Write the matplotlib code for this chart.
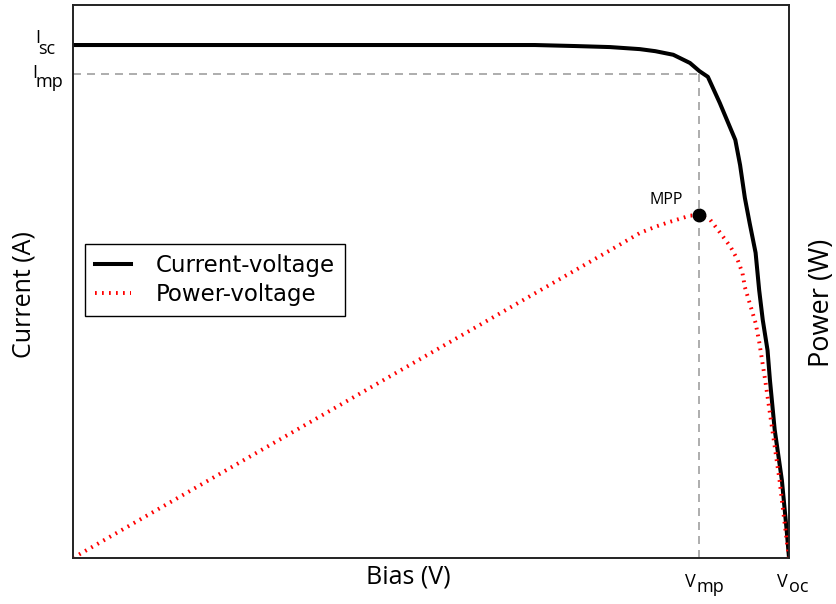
import matplotlib
matplotlib.use('Agg')
import matplotlib.pyplot as plt

plt.rcParams['font.family'] = ['Open Sans', 'DejaVu Sans']

# I-V sweep of the cell (V in volts, I normalised to Isc)
volt = [0.0, 0.387, 0.421, 0.450, 0.475, 0.488, 0.503, 0.517, 0.525, 0.532,
        0.542, 0.555, 0.559, 0.563, 0.567, 0.572, 0.575, 0.578, 0.582,
        0.584, 0.588, 0.594, 0.598, 0.600]
curr = [1.000, 1.000, 0.998, 0.996, 0.992, 0.988, 0.981, 0.965, 0.949, 0.938,
        0.887, 0.815, 0.766, 0.702, 0.653, 0.595, 0.522, 0.464, 0.405,
        0.347, 0.250, 0.152, 0.055, 0.0]

# P-V curve
pv_volt = [0.0, 0.450, 0.475, 0.488, 0.500, 0.517, 0.5245, 0.534, 0.542, 0.551,
           0.557, 0.561, 0.563, 0.567, 0.572, 0.575, 0.580, 0.586, 0.592, 0.598,
           0.600]
pv_power = [0.0, 0.444, 0.469, 0.478, 0.485, 0.494, 0.495, 0.488, 0.470, 0.449,
            0.430, 0.411, 0.391, 0.368, 0.339, 0.312, 0.257, 0.185, 0.113, 0.026,
            0.0]

Isc, Imp = 1.0, 0.9435
Voc, Vmp = 0.600, 0.5245
Pmp = 0.495

# tick labels: main letter + subscript
xtick_pos = [Vmp, Voc]
xtick_main = ['V', 'V']
xtick_sub = ['mp', 'oc']
ytick_pos = [Isc, Imp]
ytick_main = ['I', 'I']
ytick_sub = ['sc', 'mp']

fig = plt.figure(figsize=(8.36, 6.04), dpi=100)
ax1 = fig.add_axes([0.0873, 0.0762, 0.8565, 0.9155])
ax2 = ax1.twinx()

ln1, = ax1.plot(volt, curr, color='black', lw=2.9, label='Current-voltage')
dash = (0, (4.8, 3.6))
ax1.plot([0, Vmp], [Imp, Imp], color='#a0a0a0', lw=1.2, ls=dash)
ax1.plot([Vmp, Vmp], [0, Imp], color='#a0a0a0', lw=1.2, ls=dash)

ln2, = ax2.plot(pv_volt, pv_power, color='red', lw=2.8, ls=(0, (0.45, 1.35)),
                label='Power-voltage')
ax2.plot([Vmp], [Pmp], 'o', color='black', ms=9)
ax2.annotate('MPP', xy=(Vmp, Pmp), xytext=(-33, 11), textcoords='offset pixels',
             fontsize=11.5, ha='center', va='baseline')

ax1.set_xlim(0, Voc)
ax1.set_ylim(0, 1.078)
ax2.set_ylim(0, 0.798)

for ax in (ax1, ax2):
    ax.set_xticks([])
    ax.set_yticks([])
    for s in ax.spines.values():
        s.set_linewidth(1.2)
        s.set_color('#222222')

# subscripted tick labels, drawn by hand so the subscript stays full size
xoffs = [(-14, -2), (-12, 0)]
for x, m, s, (dm, ds) in zip(xtick_pos, xtick_main, xtick_sub, xoffs):
    ax1.annotate(m, xy=(x, 0), xycoords=('data', 'axes fraction'), xytext=(dm, -29),
                 textcoords='offset pixels', fontsize=13, ha='left', va='baseline',
                 annotation_clip=False)
    ax1.annotate(s, xy=(x, 0), xycoords=('data', 'axes fraction'), xytext=(ds, -34),
                 textcoords='offset pixels', fontsize=13, ha='left', va='baseline',
                 annotation_clip=False)

yoffs = [(-38, -35, 2, -9), (-41, -37, -4, -13)]
for y, m, s, (xm, xs, ym, ys) in zip(ytick_pos, ytick_main, ytick_sub, yoffs):
    ax1.annotate(m, xy=(0, y), xycoords=('axes fraction', 'data'), xytext=(xm, ym),
                 textcoords='offset pixels', fontsize=13, ha='left', va='baseline',
                 annotation_clip=False)
    ax1.annotate(s, xy=(0, y), xycoords=('axes fraction', 'data'), xytext=(xs, ys),
                 textcoords='offset pixels', fontsize=13, ha='left', va='baseline',
                 annotation_clip=False)

fig.text(408 / 836, 1 - 577 / 604, 'Bias (V)', fontsize=18, ha='center', va='center')
fig.text(24 / 836, 1 - 295 / 604, 'Current (A)', fontsize=18, rotation=90,
         ha='center', va='center')
fig.text(822 / 836, 1 - 303 / 604, 'Power (W)', fontsize=19.5, rotation=90,
         ha='center', va='center')

leg = ax2.legend(handles=[ln1, ln2], loc='upper left', bbox_to_anchor=(0.017, 0.568),
                 fancybox=False, edgecolor='black', framealpha=1,
                 prop={'family': 'DejaVu Sans', 'size': 16.5}, borderaxespad=0,
                 handlelength=1.53, handletextpad=1.09, borderpad=0.45,
                 labelspacing=0.25)
leg.get_frame().set_linewidth(1.0)

fig.savefig('out.png', dpi=100)
